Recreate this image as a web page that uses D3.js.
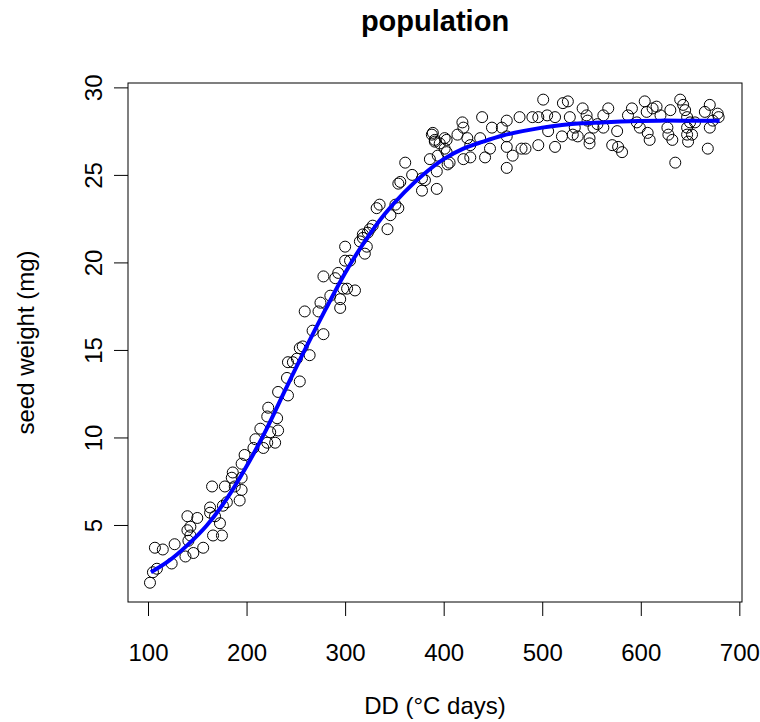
<!DOCTYPE html>
<html>
<head>
<meta charset="utf-8">
<script src="https://cdn.jsdelivr.net/npm/d3@7"></script>
<style>
  body { margin: 0; background: #fff; }
  svg text { font-family: "Liberation Sans", Arial, sans-serif; fill: #000; }
</style>
</head>
<body>
<div id="chart"></div>
<script>
// observed seed weights: degree-days and weight (mg)
var ddVals = [
  102, 105, 109, 107, 115, 127, 124, 138, 146, 156, 141, 143, 140, 143, 140, 150,
  166, 175, 163, 163, 168, 173, 176, 180, 165, 178, 185, 186, 188, 195, 193, 195,
  195, 198, 207, 209, 217, 221, 229, 214, 224, 232, 221, 222, 231, 232, 242, 241,
  242, 247, 251, 254, 254,
  257, 264, 267, 278, 259, 273, 275, 285, 295, 295, 278, 290, 293, 298, 302, 310,
  300, 300, 305, 315, 320, 318, 323,
  318, 322, 325, 328, 343, 332, 335, 346, 351, 354, 354, 356, 361, 368, 378, 381,
  378, 393, 386, 394, 393, 388, 391, 396, 403, 403, 404,
  389, 391, 401, 401, 406, 414, 419, 420, 424, 427, 420, 427, 437, 439, 447, 442,
  449, 459, 464, 464, 464, 470, 477, 479, 483, 464, 490, 496, 496, 501, 505, 506,
  513, 513,
  521, 526, 528, 520, 531, 536, 533, 541, 545, 546, 548, 548, 552, 556, 562, 567,
  562, 576, 571, 577, 581, 587, 591, 596, 599, 604, 606, 607, 609, 612, 616, 620,
  627, 628, 630, 632, 635, 640, 643, 647, 647, 648,
  645, 647, 650, 652, 670, 665, 678, 673, 670, 668, 655, 679
];
var weightVals = [
  1.7, 2.3, 2.5, 3.7, 3.6, 3.9, 2.8, 3.2, 3.4, 3.7, 4.1, 4.4, 4.7, 4.9, 5.5, 5.4,
  4.4, 4.4, 6.0, 5.7, 5.5, 5.1, 6.1, 6.3, 7.2, 7.2, 7.7, 8.0, 7.2, 7.0, 6.4, 8.5,
  7.7, 9.0, 9.4, 9.9, 9.4, 9.7, 9.7, 10.5, 10.3, 10.4, 11.2, 11.7, 11.1, 12.6, 12.4, 13.4,
  14.3, 14.3, 14.5, 15.1, 13.2,
  15.2, 14.7, 16.1, 15.9, 17.2, 17.2, 17.7, 18.1, 17.9, 17.4, 19.2, 19.1, 19.4, 18.5, 18.5, 18.4,
  20.9, 20.1, 20.1, 21.2, 20.5, 21.4, 21.7,
  21.6, 20.9, 21.9, 22.1, 21.9, 23.1, 23.3, 22.7, 23.3, 23.1, 24.5, 24.6, 25.7, 25.0, 24.8, 24.7,
  24.1, 24.2, 25.9, 26.1, 25.2, 27.3, 27.0, 26.8, 27.0, 26.3, 25.6,
  27.4, 26.9, 27.1, 26.5, 25.7, 27.3, 28.0, 27.7, 27.1, 26.7, 25.9, 26.0, 27.1, 28.3, 26.5, 26.0,
  27.7, 27.7, 28.1, 27.2, 26.6, 26.1, 28.3, 26.5, 26.5, 25.4, 28.3, 28.3, 26.7, 29.3, 28.4, 27.5,
  28.3, 26.6,
  29.1, 29.2, 28.3, 27.2, 27.3, 27.2, 27.7, 28.8, 28.4, 28.1, 27.1, 26.8, 27.7, 27.9, 28.4, 28.8,
  27.7, 27.5, 26.7, 26.6, 26.3, 28.4, 28.8, 28.0, 27.7, 29.2, 28.6, 27.4, 27.0, 28.8, 28.9, 28.4,
  27.7, 27.3, 28.7, 27.0, 25.7, 29.3, 29.0, 27.7, 27.3, 26.9,
  28.7, 28.3, 28.0, 27.3, 29.0, 28.6, 28.5, 28.1, 27.7, 26.5, 28.0, 28.3
];

// fitted curve
var fitDD = [103, 120, 140, 160, 180, 200, 220, 240, 260, 280, 300, 320, 340, 360, 380,
             400, 420, 440, 460, 480, 500, 520, 540, 560, 580, 600, 620, 640, 660, 680];
var fitWeight = [2.3, 2.9, 3.85, 5.0, 6.5, 8.35, 10.45, 12.8, 15.1, 17.3, 19.4, 21.2, 22.75, 24.0, 25.05,
                 25.9, 26.5, 26.9, 27.25, 27.5, 27.7, 27.85, 27.95, 28.0, 28.05, 28.08, 28.1, 28.1, 28.1, 28.1];

var xTicks = [100, 200, 300, 400, 500, 600, 700];
var yTicks = [5, 10, 15, 20, 25, 30];

var W = 760, H = 722;
var box = { left: 128, right: 742, top: 83, bottom: 602 };

var svg = d3.select("#chart").append("svg")
    .attr("width", W)
    .attr("height", H);

var x = d3.scaleLinear().domain([79.7, 702.7]).range([box.left, box.right]);
var y = d3.scaleLinear().domain([0.6, 30.25]).range([box.bottom, box.top]);

// x axis, R style: ticks outward, labels below
var xAxis = svg.append("g")
    .attr("transform", "translate(0," + box.bottom + ")")
    .call(d3.axisBottom(x).tickValues(xTicks).tickSize(14).tickSizeOuter(0).tickPadding(28));
xAxis.select(".domain").remove();
xAxis.selectAll("line").attr("stroke", "#000");
xAxis.selectAll("text")
    .style("font-size", "24px")
    .attr("font-family", null)
    .attr("dy", null)
    .attr("y", 59);

// y axis, labels rotated along the axis
var yAxis = svg.append("g")
    .attr("transform", "translate(" + box.left + ",0)")
    .call(d3.axisLeft(y).tickValues(yTicks).tickSize(14).tickSizeOuter(0));
yAxis.select(".domain").remove();
yAxis.selectAll("line").attr("stroke", "#000");
yAxis.selectAll("text")
    .style("font-size", "24px")
    .attr("font-family", null)
    .attr("x", null)
    .attr("dy", null)
    .attr("text-anchor", "middle")
    .attr("transform", "translate(-26,0) rotate(-90)");

// plot frame
svg.append("rect")
    .attr("x", box.left)
    .attr("y", box.top)
    .attr("width", box.right - box.left)
    .attr("height", box.bottom - box.top)
    .attr("fill", "none")
    .attr("stroke", "#000")
    .attr("stroke-width", 1);

// points
svg.append("g")
    .selectAll("circle")
    .data(ddVals.map((d, i) => ({ dd: d, w: weightVals[i] })))
    .enter()
    .append("circle")
    .attr("cx", d => x(d.dd))
    .attr("cy", d => y(d.w))
    .attr("r", 5.5)
    .attr("fill", "none")
    .attr("stroke", "#000")
    .attr("stroke-width", 1);

// fitted line
var line = d3.line()
    .x(d => x(d[0]))
    .y(d => y(d[1]))
    .curve(d3.curveCatmullRom);

svg.append("path")
    .datum(fitDD.map((d, i) => [d, fitWeight[i]]))
    .attr("d", line)
    .attr("fill", "none")
    .attr("stroke", "#0000ff")
    .attr("stroke-width", 4);

// titles
svg.append("text")
    .attr("x", (box.left + box.right) / 2)
    .attr("y", 31)
    .attr("text-anchor", "middle")
    .style("font-size", "29px")
    .style("font-weight", "bold")
    .text("population");

svg.append("text")
    .attr("x", (box.left + box.right) / 2)
    .attr("y", 714)
    .attr("text-anchor", "middle")
    .style("font-size", "24px")
    .text("DD (°C days)");

svg.append("text")
    .attr("transform", "translate(34," + ((box.top + box.bottom) / 2) + ") rotate(-90)")
    .attr("text-anchor", "middle")
    .style("font-size", "24px")
    .text("seed weight (mg)");
</script>
</body>
</html>
